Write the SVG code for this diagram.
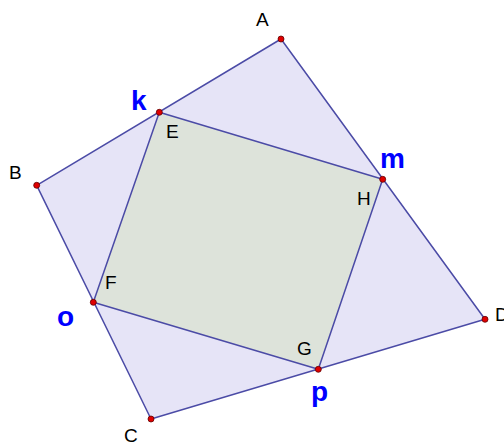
<svg xmlns="http://www.w3.org/2000/svg" width="504" height="445" viewBox="0 0 504 445">
<style>
.edge{stroke:#4b4ba6;stroke-width:1.5;stroke-linejoin:round}
.pt{fill:#e00000;stroke:#600000;stroke-width:0.8}
.lbl{font-family:"Liberation Sans",Arial,sans-serif;font-size:19px;fill:#000}
.blue{font-family:"Liberation Sans",Arial,sans-serif;font-size:28px;font-weight:bold;fill:#0000ff}
</style>
<rect width="504" height="445" fill="#fff"/>
<g id="connectors">
<polygon id="outer" class="edge" fill="#e6e4f7" points="281,39 36.7,185.3 151,419 485,319.3"/>
<polygon id="inner" class="edge" fill="#dde3da" points="159.3,112.3 382.7,179.3 318.3,369.3 93.3,302.3"/>
</g>
<g id="A"><circle class="pt" cx="281" cy="39" r="3"/><text class="lbl" x="256" y="26">A</text></g>
<g id="B"><circle class="pt" cx="36.7" cy="185.3" r="3"/><text class="lbl" x="9" y="179">B</text></g>
<g id="C"><circle class="pt" cx="151" cy="419" r="3"/><text class="lbl" x="124" y="442">C</text></g>
<g id="D"><circle class="pt" cx="485" cy="319.3" r="3"/><text class="lbl" x="495" y="321">D</text></g>
<g id="E"><circle class="pt" cx="159.3" cy="112.3" r="3"/><text class="lbl" x="166" y="138">E</text><text class="blue" x="131" y="110">k</text></g>
<g id="H"><circle class="pt" cx="382.7" cy="179.3" r="3"/><text class="lbl" x="357" y="205">H</text><text class="blue" x="380" y="168">m</text></g>
<g id="G"><circle class="pt" cx="318.3" cy="369.3" r="3"/><text class="lbl" x="297" y="355">G</text><text class="blue" x="311" y="401">p</text></g>
<g id="F"><circle class="pt" cx="93.3" cy="302.3" r="3"/><text class="lbl" x="105" y="289">F</text><text class="blue" x="57" y="326">o</text></g>
</svg>
